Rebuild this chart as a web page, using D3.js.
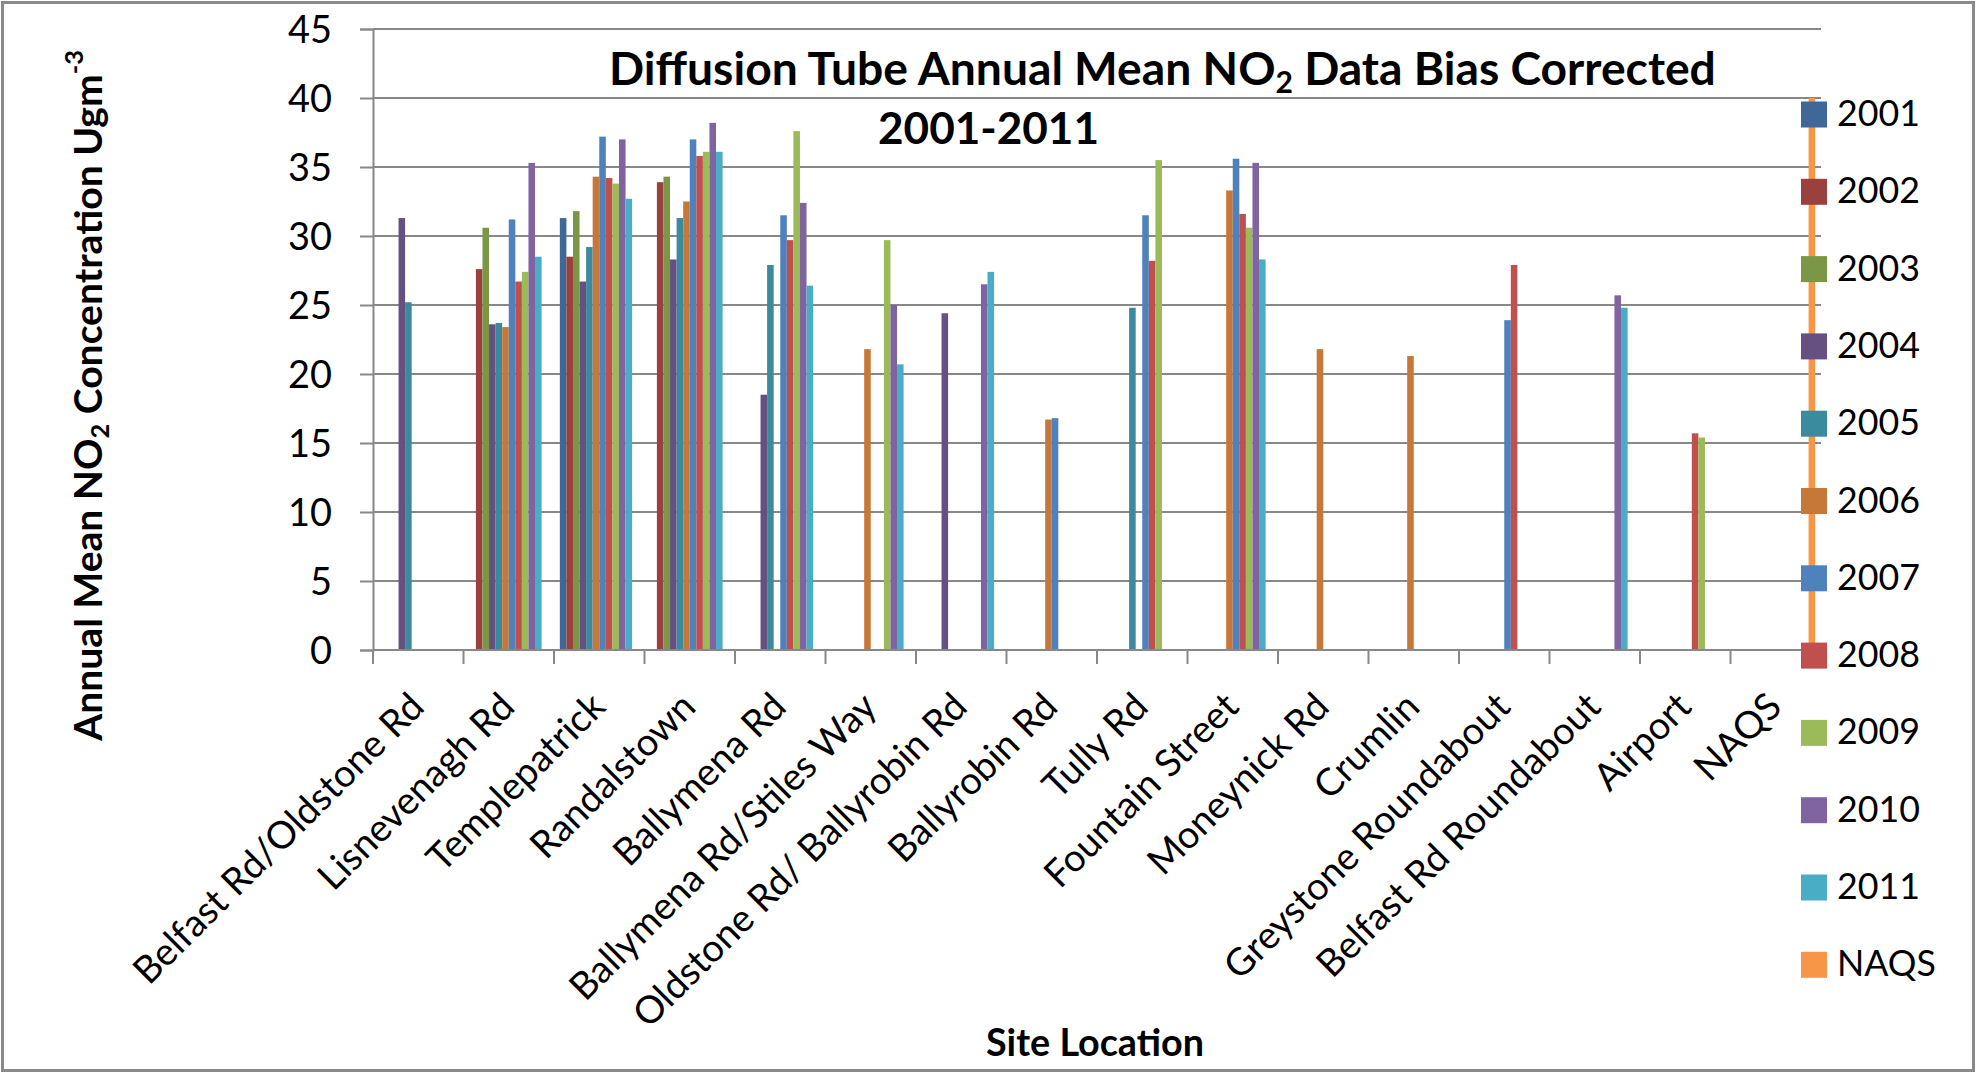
<!DOCTYPE html>
<html>
<head>
<meta charset="utf-8">
<script src="https://cdn.jsdelivr.net/npm/d3@7/dist/d3.min.js"></script>
<style>
  html, body { margin: 0; padding: 0; background: #fff; }
  svg { display: block; }
  text { font-family: Lato, "Open Sans", sans-serif; fill: #000; }
</style>
</head>
<body>
<svg id="chart" width="1977" height="1074"></svg>
<script>
// ---------------- data ----------------
const categories = [
  "Belfast Rd/Oldstone Rd", "Lisnevenagh Rd", "Templepatrick", "Randalstown",
  "Ballymena Rd", "Ballymena Rd/Stiles Way", "Oldstone Rd/ Ballyrobin Rd",
  "Ballyrobin Rd", "Tully Rd", "Fountain Street", "Moneynick Rd", "Crumlin",
  "Greystone Roundabout", "Belfast Rd Roundabout", "Airport", "NAQS"
];
const seriesNames = ["2001","2002","2003","2004","2005","2006","2007","2008","2009","2010","2011","NAQS"];
const seriesColors = ["#3F6797","#9A403E","#7C9647","#665082","#3C8A9E","#C67838",
                      "#4F81BD","#C0504D","#9BBB59","#8064A2","#4BACC6","#F79646"];
const _ = null;
const v2001 = [_, _, 31.3, _, _, _, _, _, _, _, _, _, _, _, _, _];
const v2002 = [_, 27.6, 28.5, 33.9, _, _, _, _, _, _, _, _, _, _, _, _];
const v2003 = [_, 30.6, 31.8, 34.3, _, _, _, _, _, _, _, _, _, _, _, _];
const v2004 = [31.3, 23.6, 26.7, 28.3, 18.5, _, 24.4, _, _, _, _, _, _, _, _, _];
const v2005 = [25.2, 23.7, 29.2, 31.3, 27.9, _, _, _, 24.8, _, _, _, _, _, _, _];
const v2006 = [_, 23.4, 34.3, 32.5, _, 21.8, _, 16.7, _, 33.3, 21.8, 21.3, _, _, _, _];
const v2007 = [_, 31.2, 37.2, 37.0, 31.5, _, _, 16.8, 31.5, 35.6, _, _, 23.9, _, _, _];
const v2008 = [_, 26.7, 34.2, 35.8, 29.7, _, _, _, 28.2, 31.6, _, _, 27.9, _, 15.7, _];
const v2009 = [_, 27.4, 33.8, 36.1, 37.6, 29.7, _, _, 35.5, 30.6, _, _, _, _, 15.4, _];
const v2010 = [_, 35.3, 37.0, 38.2, 32.4, 25.0, 26.5, _, _, 35.3, _, _, _, 25.7, _, _];
const v2011 = [_, 28.5, 32.7, 36.1, 26.4, 20.7, 27.4, _, _, 28.3, _, _, _, 24.8, _, _];
const vNAQS = [_, _, _, _, _, _, _, _, _, _, _, _, _, _, _, 40];
const seriesValues = [v2001, v2002, v2003, v2004, v2005, v2006, v2007, v2008, v2009, v2010, v2011, vNAQS];
const yTicks = [0, 5, 10, 15, 20, 25, 30, 35, 40, 45];

// ---------------- layout ----------------
const svg = d3.select("#chart");
const plot = { left: 373, right: 1821, top: 29, bottom: 650 };
const gridColor = "#888888";

svg.append("rect").attr("x", 0).attr("y", 0).attr("width", 1977).attr("height", 1074).attr("fill", "#fff");
svg.append("rect").attr("x", 2.5).attr("y", 2.5).attr("width", 1971).attr("height", 1068)
  .attr("fill", "none").attr("stroke", "#8a8a8a").attr("stroke-width", 3);

const x = d3.scaleBand().domain(categories).range([plot.left, plot.right]).paddingInner(0).paddingOuter(0);
const x1 = d3.scaleBand().domain(seriesNames).range([0, x.bandwidth()]).paddingInner(0).paddingOuter(0.887);
const y = d3.scaleLinear().domain([0, 45]).range([plot.bottom, plot.top]);

function fit(sel, target) {
  const w = sel.node().getComputedTextLength();
  const fs = parseFloat(sel.attr("font-size"));
  sel.attr("font-size", fs * target / w);
  return fs * target / w;
}

// gridlines
svg.append("g").selectAll("line").data(yTicks.filter(t => t > 0)).join("line")
  .attr("x1", plot.left).attr("x2", plot.right)
  .attr("y1", d => y(d)).attr("y2", d => y(d))
  .attr("stroke", gridColor).attr("stroke-width", 2);

// bars
const barG = svg.append("g");
seriesNames.forEach((s, si) => {
  const pts = categories.map((c, i) => ({ c, v: seriesValues[si][i] })).filter(d => d.v != null);
  barG.selectAll(null).data(pts).join("rect")
    .attr("x", d => x(d.c) + x1(s))
    .attr("width", x1.bandwidth())
    .attr("y", d => y(d.v))
    .attr("height", d => y(0) - y(d.v))
    .attr("fill", seriesColors[si]);
});

// y axis
const yAxis = svg.append("g").attr("transform", `translate(${plot.left},0)`)
  .call(d3.axisLeft(y).tickValues(yTicks).tickSize(13).tickPadding(28));
yAxis.select(".domain").attr("stroke", gridColor).attr("stroke-width", 2);
yAxis.selectAll(".tick line").attr("stroke", gridColor).attr("stroke-width", 2);
const yt = yAxis.selectAll(".tick text").attr("font-family", "Lato, sans-serif").attr("fill", "#000").attr("font-size", 38);
const tickFs = fit(yAxis.selectAll(".tick text").filter(d => d === 45), 44);
yt.attr("font-size", tickFs).attr("dy", "0.36em");

// x axis
svg.append("line").attr("x1", plot.left).attr("x2", plot.right)
  .attr("y1", y(0)).attr("y2", y(0)).attr("stroke", gridColor).attr("stroke-width", 2);
const bounds = categories.map(c => x(c)).concat([x.range()[1]]);
svg.append("g").selectAll("line").data(bounds).join("line")
  .attr("x1", d => d).attr("x2", d => d)
  .attr("y1", y(0)).attr("y2", y(0) + 14)
  .attr("stroke", gridColor).attr("stroke-width", 2);
svg.append("g").selectAll("text").data(categories).join("text")
  .attr("transform", d => `translate(${x(d) + x.bandwidth() / 2 + 8},${y(0) + 59}) rotate(-45)`)
  .attr("text-anchor", "end")
  .attr("font-size", tickFs)
  .text(d => d);

// legend
const leg = svg.append("g");
seriesNames.forEach((s, i) => {
  const cy = 114.5 + i * 77.3;
  leg.append("rect").attr("x", 1801).attr("y", cy - 13).attr("width", 26).attr("height", 26)
    .attr("fill", seriesColors[i]);
  leg.append("text").attr("class", "legtxt").attr("x", 1837).attr("y", cy + 11.5)
    .attr("font-size", 36).text(s);
});
const legFs = fit(leg.selectAll(".legtxt").filter((d, i) => i === 0), 83);
leg.selectAll(".legtxt").attr("font-size", legFs);

// title
const t1 = svg.append("text").attr("x", 609).attr("y", 85).attr("font-weight", "bold").attr("font-size", 44);
t1.append("tspan").text("Diffusion Tube Annual Mean NO");
t1.append("tspan").attr("font-size", "0.65em").attr("dy", "0.28em").text("2");
t1.append("tspan").attr("dy", "-0.18em").text(" Data Bias Corrected");
fit(t1, 1107);
const t2 = svg.append("text").attr("x", 878).attr("y", 144).attr("font-weight", "bold").attr("font-size", 44)
  .text("2001-2011");
fit(t2, 221);

// axis titles
const yTitle = svg.append("text").attr("transform", "translate(102,395.5) rotate(-90)")
  .attr("text-anchor", "middle").attr("font-weight", "bold").attr("font-size", 36);
yTitle.append("tspan").text("Annual Mean NO");
yTitle.append("tspan").attr("font-size", "0.65em").attr("dy", "0.28em").text("2");
yTitle.append("tspan").attr("dy", "-0.18em").text(" Concentration Ugm");
yTitle.append("tspan").attr("font-size", "0.65em").attr("dy", "-0.75em").text("-3");
fit(yTitle, 691);

const xTitle = svg.append("text").attr("x", 986).attr("y", 1056).attr("font-weight", "bold").attr("font-size", 36)
  .text("Site Location");
fit(xTitle, 218);
</script>
</body>
</html>
